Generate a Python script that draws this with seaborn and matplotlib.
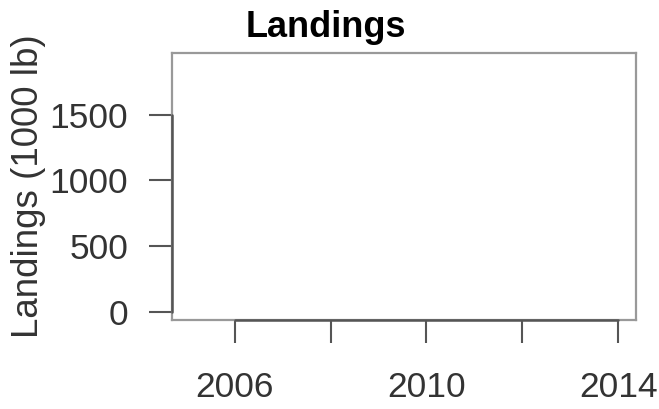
import matplotlib
matplotlib.use("Agg")
import matplotlib.pyplot as plt
import seaborn as sns
import pandas as pd
import numpy as np

# Annual landings series (no reportable values in this period)
years = [2005, 2006, 2007, 2008, 2009, 2010, 2011, 2012, 2013, 2014]
landings = [np.nan] * len(years)

x_ticks = [2006, 2008, 2010, 2012, 2014]
x_tick_labels = ["2006", "", "2010", "", "2014"]
y_ticks = [0, 500, 1000, 1500]
y_tick_labels = ["0", "500", "1000", "1500"]

sns.set_theme(style="white")
plt.rcParams["font.family"] = ["Liberation Sans", "DejaVu Sans"]

fig, ax = plt.subplots(figsize=(6.59, 4.09), dpi=100)
fig.subplots_adjust(left=0.261, right=0.965, top=0.870, bottom=0.218)

df = pd.DataFrame({"Year": years, "Landings": landings})
sns.lineplot(data=df.dropna(), x="Year", y="Landings", ax=ax, color="black")

ax.set_xlim(2004.69, 2014.37)
ax.set_ylim(-62, 1970)

ax.set_xticks(x_ticks)
ax.set_xticklabels(x_tick_labels)
ax.set_yticks(y_ticks)
ax.set_yticklabels(y_tick_labels)

text_color = "#333333"
ax.tick_params(axis="both", direction="out", length=16.5, width=1.5,
               color="#555555", labelsize=25.5, labelcolor=text_color,
               left=True, bottom=True)
ax.tick_params(axis="y", pad=15)
ax.tick_params(axis="x", pad=20)

for sp in ax.spines.values():
    sp.set_visible(True)
    sp.set_color("#999999")
    sp.set_linewidth(1.6)

# axis lines spanning the first to last tick
x0, _ = ax.get_xlim()
y0, _ = ax.get_ylim()
ax.plot([x0, x0], [y_ticks[0], y_ticks[-1]], color="#555555", lw=1.8,
        clip_on=False, zorder=5)
ax.plot([x_ticks[0], x_ticks[-1]], [y0, y0], color="#555555", lw=1.8,
        clip_on=False, zorder=5)

ax.set_xlabel("")
ax.set_ylabel("Landings (1000 lb)", fontsize=26.5, color=text_color)
ax.yaxis.set_label_coords(-0.272, 0.5)

# title centred on the whole figure
fig.suptitle("Landings", fontsize=26, fontweight="bold", color="black",
             x=0.494, y=0.975, va="top")

fig.savefig("out.png", dpi=100)
